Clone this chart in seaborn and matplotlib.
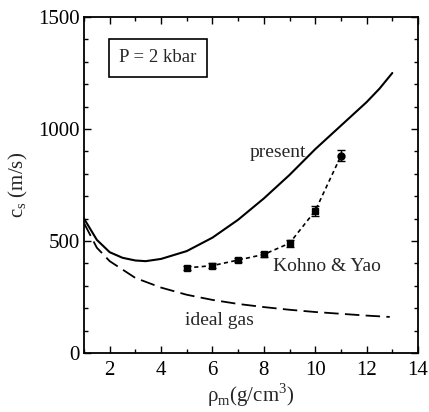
import numpy as np
import pandas as pd
import matplotlib
matplotlib.use("Agg")
import matplotlib.pyplot as plt
import seaborn as sns
from matplotlib.ticker import MultipleLocator

# data
present_x = [1.0, 1.5, 2.0, 2.5, 3.0, 3.4, 4.0, 5.0, 6.0, 7.0, 8.0, 9.0, 10.0, 11.0, 12.0, 12.5, 13.0]
present_y = [600, 505, 450, 425, 413, 410, 420, 455, 515, 595, 690, 795, 910, 1015, 1120, 1180, 1250]

ideal_x = [1.0, 1.5, 2.0, 3.0, 4.0, 5.0, 6.0, 7.0, 8.0, 9.0, 10.0, 11.0, 12.0, 12.9]
ideal_y = [580, 470, 410, 335, 292, 260, 237, 219, 205, 193, 183, 175, 167, 161]

ky_x = [5, 6, 7, 8, 9, 10, 11]
ky_y = [380, 390, 415, 440, 490, 635, 880]
ky_err = [8, 10, 10, 10, 15, 22, 25]

sns.set_theme(style="ticks")
plt.rcParams['font.family'] = ['Liberation Serif', 'DejaVu Serif']
plt.rcParams['mathtext.fontset'] = 'custom'
plt.rcParams['mathtext.rm'] = 'Liberation Serif'

fig = plt.figure(figsize=(4.29, 4.12), dpi=100)
ax = fig.add_axes([84/429, 1-353/412, 334/429, 336/412])

dfp = pd.DataFrame({"x": present_x, "y": present_y})
dfi = pd.DataFrame({"x": ideal_x, "y": ideal_y})
dfk = pd.DataFrame({"x": ky_x, "y": ky_y})

sns.lineplot(data=dfp, x="x", y="y", ax=ax, color="black", lw=1.5, sort=False)
sns.lineplot(data=dfi, x="x", y="y", ax=ax, color="black", lw=1.3, sort=False,
             linestyle=(0, (8, 3.5)))
sns.lineplot(data=dfk, x="x", y="y", ax=ax, color="black", lw=1.2, sort=False,
             linestyle=(0, (2.5, 2)))
ax.errorbar(ky_x[:-1], ky_y[:-1], yerr=ky_err[:-1], fmt='s', color='black', ms=5,
            capsize=3, elinewidth=1, lw=0)
ax.errorbar(ky_x[-1:], ky_y[-1:], yerr=ky_err[-1:], fmt='o', color='black', ms=5,
            capsize=3, elinewidth=1, lw=0)

ax.set_xlim(1, 14)
ax.set_ylim(0, 1500)
ax.xaxis.set_major_locator(MultipleLocator(2))
ax.xaxis.set_minor_locator(MultipleLocator(1))
ax.yaxis.set_major_locator(MultipleLocator(500))
ax.yaxis.set_minor_locator(MultipleLocator(100))
ax.tick_params(which='both', direction='in', top=True, right=True, labelsize=15,
               colors='black', width=1)
ax.tick_params(axis='x', which='major', pad=6)
ax.tick_params(axis='y', which='major', pad=3)
ax.tick_params(which='major', length=5)
ax.tick_params(which='minor', length=3)
for s in ax.spines.values():
    s.set_linewidth(1.3)
    s.set_color('black')

ax.set_xlabel("ρ$_{\\rm m}$(g/cm$^3$)", fontsize=15, labelpad=1)
ax.set_ylabel("c$_{\\rm s}$ (m/s)", fontsize=15, labelpad=6)

ax.text(7.45, 893, "present", fontsize=14, va='center', ha='left')
ax.text(8.35, 384, "Kohno & Yao", fontsize=14, va='center', ha='left')
ax.text(4.95, 147, "ideal gas", fontsize=14, va='center', ha='left')
ax.text(0.221, 0.878, "P = 2 kbar", fontsize=13.5, va='center', ha='center',
        transform=ax.transAxes,
        bbox=dict(boxstyle='square,pad=0.55', fc='white', ec='black', lw=1.2))

fig.savefig("out.png", dpi=100)
